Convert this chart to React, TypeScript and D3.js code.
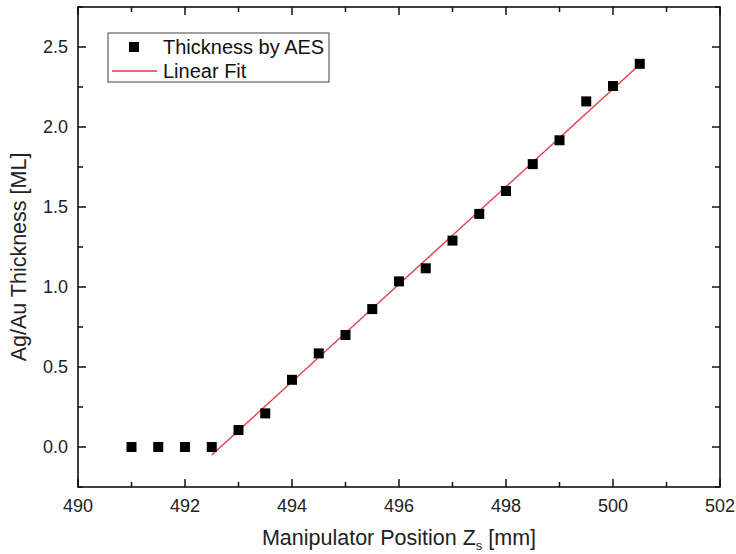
import React from "react";
import * as d3 from "d3";

const positions = [491, 491.5, 492, 492.5, 493, 493.5, 494, 494.5, 495, 495.5, 496, 496.5, 497, 497.5, 498, 498.5, 499, 499.5, 500, 500.5];
const thickness = [0, 0, 0, 0, 0.106, 0.21, 0.42, 0.585, 0.7, 0.862, 1.035, 1.117, 1.29, 1.457, 1.6, 1.768, 1.917, 2.16, 2.256, 2.395];
const fitX = [492.5, 500.5];
const fitY = [-0.05, 2.39];
const xMajorTicks = [490, 492, 494, 496, 498, 500, 502];
const xMinorTicks = [491, 493, 495, 497, 499, 501];
const yMajorTicks = [0, 0.5, 1.0, 1.5, 2.0, 2.5];
const yMinorTicks = [-0.25, 0.25, 0.75, 1.25, 1.75, 2.25, 2.75];
const legendLabels = ["Thickness by AES", "Linear Fit"];

const W = 736, H = 554;
const L = 78, R = 720, T = 7, B = 487;
const FONT = "Liberation Sans, Arial, Helvetica, sans-serif";

export default function App() {
  const x = d3.scaleLinear().domain([490, 502]).range([L, R]);
  const y = d3.scaleLinear().domain([-0.25, 2.75]).range([B, T]);
  const line = d3.line<number>().x((_, i) => x(fitX[i])).y((d) => y(d));
  const major = 8, minor = 5;
  const ms = 10;
  return (
    <svg width={W} height={H} style={{ position: "absolute", left: 0, top: 0, background: "#fff" }} fontFamily={FONT}>
      <rect x={0} y={0} width={W} height={H} fill="#fff" />
      {/* fit line */}
      <path d={line(fitY) || ""} stroke="#e8333c" strokeWidth={1.3} fill="none" />
      {/* markers */}
      {positions.map((p, i) => (
        <rect key={i} x={x(p) - ms / 2} y={y(thickness[i]) - ms / 2} width={ms} height={ms} fill="#000" />
      ))}
      {/* frame */}
      <rect x={L} y={T} width={R - L} height={B - T} fill="none" stroke="#111" strokeWidth={1.6} />
      {/* x ticks */}
      {xMajorTicks.map((t) => (
        <g key={"xM" + t}>
          <line x1={x(t)} x2={x(t)} y1={B} y2={B - major} stroke="#111" strokeWidth={1.5} />
          <line x1={x(t)} x2={x(t)} y1={T} y2={T + major} stroke="#111" strokeWidth={1.5} />
          <text x={x(t)} y={512} textAnchor="middle" fontSize={18} fill="#222">{t}</text>
        </g>
      ))}
      {xMinorTicks.map((t) => (
        <g key={"xm" + t}>
          <line x1={x(t)} x2={x(t)} y1={B} y2={B - minor} stroke="#111" strokeWidth={1.5} />
          <line x1={x(t)} x2={x(t)} y1={T} y2={T + minor} stroke="#111" strokeWidth={1.5} />
        </g>
      ))}
      {/* y ticks */}
      {yMajorTicks.map((t) => (
        <g key={"yM" + t}>
          <line x1={L} x2={L + major} y1={y(t)} y2={y(t)} stroke="#111" strokeWidth={1.5} />
          <line x1={R} x2={R - major} y1={y(t)} y2={y(t)} stroke="#111" strokeWidth={1.5} />
          <text x={68} y={y(t)} dy="0.35em" textAnchor="end" fontSize={18} fill="#222">{t.toFixed(1)}</text>
        </g>
      ))}
      {yMinorTicks.map((t) => (
        <g key={"ym" + t}>
          <line x1={L} x2={L + minor} y1={y(t)} y2={y(t)} stroke="#111" strokeWidth={1.5} />
          <line x1={R} x2={R - minor} y1={y(t)} y2={y(t)} stroke="#111" strokeWidth={1.5} />
        </g>
      ))}
      {/* axis titles */}
      <text x={(L + R) / 2} y={545} textAnchor="middle" fontSize={21.5} fill="#222">
        Manipulator Position Z<tspan fontSize={13} dy={5}>s</tspan><tspan dy={-5}> [mm]</tspan>
      </text>
      <text transform={`translate(26, ${257}) rotate(-90)`} textAnchor="middle" fontSize={21.5} fill="#222">
        Ag/Au Thickness [ML]
      </text>
      {/* legend */}
      <rect x={108} y={33} width={221} height={49} fill="#fff" stroke="#444" strokeWidth={1} />
      <rect x={134 - ms / 2} y={47 - ms / 2} width={ms} height={ms} fill="#000" />
      <text x={163} y={54} fontSize={20} fill="#111">{legendLabels[0]}</text>
      <line x1={112} x2={157} y1={71} y2={71} stroke="#e8333c" strokeWidth={1.3} />
      <text x={163} y={78} fontSize={20} fill="#111">{legendLabels[1]}</text>
    </svg>
  );
}
